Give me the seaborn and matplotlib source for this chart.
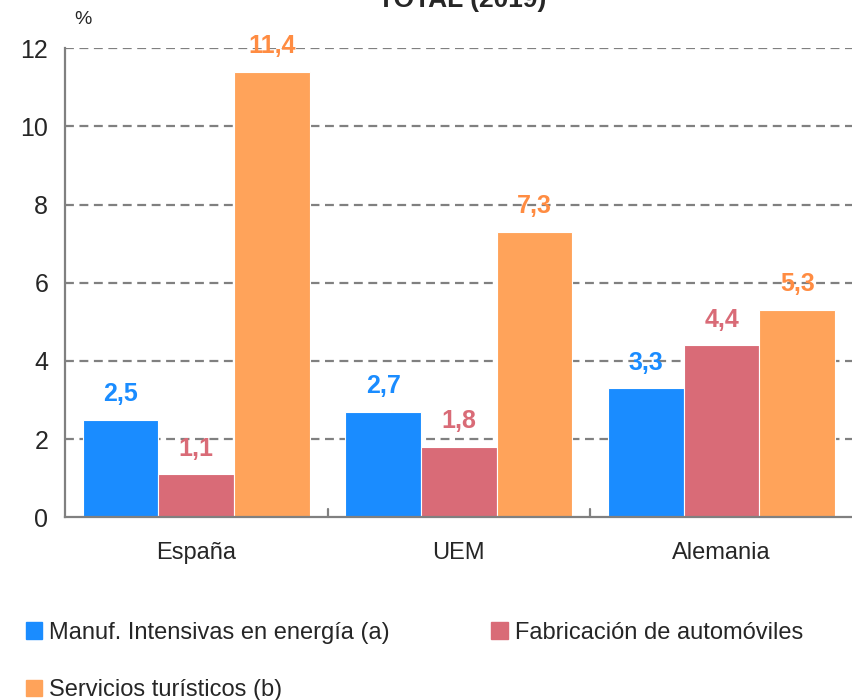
import matplotlib
matplotlib.use("Agg")
import matplotlib.pyplot as plt
import seaborn as sns
import pandas as pd
from matplotlib.patches import Patch

categories = ["España", "UEM", "Alemania"]
series = ["Manuf. Intensivas en energía (a)", "Fabricación de automóviles", "Servicios turísticos (b)"]
manuf = [2.5, 2.7, 3.3]
autos = [1.1, 1.8, 4.4]
turismo = [11.4, 7.3, 5.3]
yticks = [0, 2, 4, 6, 8, 10, 12]
colors = ["#1A8CFF", "#D96B77", "#FFA35A"]
label_colors = ["#1A8CFF", "#D96B77", "#FF8C42"]

rows = []
for s, vals in zip(series, [manuf, autos, turismo]):
    for c, v in zip(categories, vals):
        rows.append({"cat": c, "serie": s, "val": v})
df = pd.DataFrame(rows)

sns.set_style("white")
plt.rcParams["font.family"] = ["Liberation Sans", "DejaVu Sans"]

fig = plt.figure(figsize=(8.53, 7.0), dpi=100)
ax = fig.add_axes([0.076, 0.261, 0.924, 0.670])

sns.barplot(data=df, x="cat", y="val", hue="serie", hue_order=series,
            order=categories, palette=colors, width=0.864, saturation=1,
            ax=ax, legend=False, edgecolor="white", linewidth=0.8)

ax.set_ylim(0, 12)
ax.set_xlim(-0.5, 2.5)
ax.set_yticks(yticks)
ax.set_yticklabels([str(t) for t in yticks], fontsize=18)
ax.set_xticks(range(len(categories)))
ax.set_xticklabels(categories, fontsize=17)
ax.tick_params(axis="x", length=0, pad=18)
ax.tick_params(axis="y", length=0, pad=12)
ax.set_xlabel("")
ax.set_ylabel("")
for t in yticks[1:]:
    ax.axhline(t, color="#808080", linestyle=(0, (4, 2.5)), linewidth=1.6, zorder=0)
ax.set_axisbelow(True)
for sp in ["top", "right"]:
    ax.spines[sp].set_visible(False)
for sp in ["left", "bottom"]:
    ax.spines[sp].set_color("#808080")
    ax.spines[sp].set_linewidth(1.6)
# category separator ticks
for xb in [0.5, 1.5]:
    ax.plot([xb, xb], [0, 0.2], color="#808080", linewidth=1.6, clip_on=False)

for i, cont in enumerate(ax.containers):
    for bar in cont:
        h = bar.get_height()
        ax.text(bar.get_x() + bar.get_width() / 2, h + 0.35,
                f"{h:.1f}".replace(".", ","), ha="center", va="bottom",
                fontsize=18, fontweight="bold", color=label_colors[i])

fig.text(0.542, 1.0, "TOTAL (2019)", ha="center", va="center",
         fontsize=19, fontweight="bold")
fig.text(0.097, 0.972, "%", ha="center", va="center", fontsize=14)

order = [0, 2, 1]
handles = [Patch(color=colors[k]) for k in order]
labels = [series[k] for k in order]
fig.legend(handles, labels, loc="upper left", bbox_to_anchor=(0.005, 0.142),
           ncol=2, frameon=False, fontsize=17, handlelength=0.7, handleheight=0.7,
           handletextpad=0.3, columnspacing=4.3, labelspacing=1.5)

fig.savefig("out.png", dpi=100)
